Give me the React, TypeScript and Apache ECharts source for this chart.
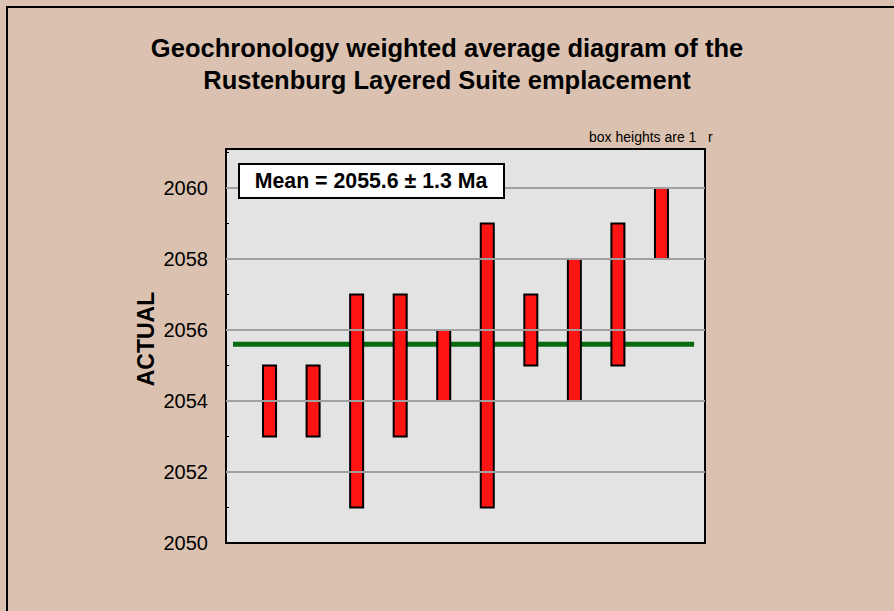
import React, { useEffect, useRef } from "react";
import * as echarts from "echarts";

const positions = [1, 2, 3, 4, 5, 6, 7, 8, 9, 10];
const lows = [2053, 2053, 2051, 2053, 2054, 2051, 2055, 2054, 2055, 2058];
const highs = [2055, 2055, 2057, 2057, 2056, 2059, 2057, 2058, 2059, 2060];
const meanValue = 2055.6;
const meanSpan = [0.16, 10.75];
const yTicks = [2050, 2052, 2054, 2056, 2058, 2060];
const gridValues = [2052, 2054, 2056, 2058, 2060];
const titleLines = ["Geochronology weighted average diagram of the", "Rustenburg Layered Suite emplacement"];
const yAxisTitle = "ACTUAL";
const meanLabel = "Mean = 2055.6 ± 1.3 Ma";
const noteLabel = "box heights are 1   r";

const FONT = "Arial, 'Liberation Sans', sans-serif";

export default function App() {
  const ref = useRef<HTMLDivElement>(null);
  useEffect(() => {
    if (!ref.current) return;
    const chart = echarts.init(ref.current, null, { renderer: "svg" });
    const boxData = positions.map((p, i) => [p, lows[i], highs[i]]);
    chart.setOption({
      animation: false,
      backgroundColor: "#dbc2b0",
      title: {
        text: titleLines.join("\n"),
        left: "center",
        top: 32,
        padding: 0,
        textStyle: {
          fontFamily: FONT,
          fontSize: 25.5,
          fontWeight: "bold",
          color: "#000",
          lineHeight: 32,
        },
      },
      grid: {
        left: 226,
        top: 149,
        right: 189,
        bottom: 68,
        show: true,
        backgroundColor: "#e3e3e3",
        borderColor: "#000",
        borderWidth: 2,
      },
      xAxis: {
        type: "value",
        min: 0,
        max: 11,
        show: true,
        axisLine: { show: true, lineStyle: { color: "#000", width: 2 } },
        axisTick: { show: false },
        axisLabel: { show: false },
        splitLine: { show: false },
      },
      yAxis: {
        type: "value",
        min: 2050,
        max: 2061.1,
        interval: 2,
        axisLine: { show: true, lineStyle: { color: "#000", width: 2 } },
        axisTick: { show: true, inside: true, length: 5, lineStyle: { color: "#000", width: 2 } },
        minorTick: { show: true, splitNumber: 2, length: 3, lineStyle: { color: "#000", width: 1 } },
        splitLine: { show: false },
        axisLabel: {
          fontFamily: FONT,
          fontSize: 20,
          color: "#000",
          margin: 18,
          formatter: (v: number) => (yTicks.indexOf(Math.round(v * 10) / 10) >= 0 ? String(v) : ""),
        },
      },
      series: [
        {
          type: "line",
          data: [
            [meanSpan[0], meanValue],
            [meanSpan[1], meanValue],
          ],
          symbol: "none",
          lineStyle: { color: "#056a10", width: 5 },
          z: 2,
          markLine: {
            silent: true,
            symbol: "none",
            label: { show: false },
            lineStyle: { color: "#a0a0a0", width: 2, type: "solid" },
            data: gridValues.map((v) => ({ yAxis: v })),
          },
        },
        {
          type: "custom",
          data: boxData,
          z: 3,
          renderItem: (params: any, api: any) => {
            const x = api.value(0);
            const top = api.coord([x, api.value(2)]);
            const bottom = api.coord([x, api.value(1)]);
            const w = 13;
            return {
              type: "rect",
              shape: { x: top[0] - w / 2, y: top[1], width: w, height: bottom[1] - top[1] },
              style: { fill: "#ff1414", stroke: "#000", lineWidth: 2 },
            };
          },
        },
      ],
      graphic: [
        {
          type: "rect",
          shape: { x: 7, y: 7, width: 1000, height: 700 },
          style: { fill: "none", stroke: "#000", lineWidth: 2 },
          silent: true,
          z: 0,
        },
        {
          type: "text",
          x: 146,
          y: 339,
          rotation: Math.PI / 2,
          style: {
            text: yAxisTitle,
            fontFamily: FONT,
            fontSize: 23,
            fontWeight: "bold",
            fill: "#000",
            align: "center",
            verticalAlign: "middle",
          },
          z: 11,
        },
        {
          type: "rect",
          shape: { x: 239, y: 164, width: 265, height: 34 },
          style: { fill: "#fff", stroke: "#000", lineWidth: 2 },
          z: 10,
        },
        {
          type: "text",
          x: 371,
          y: 181,
          style: {
            text: meanLabel,
            fontFamily: FONT,
            fontSize: 21.3,
            fontWeight: "bold",
            fill: "#000",
            align: "center",
            verticalAlign: "middle",
          },
          z: 11,
        },
        {
          type: "text",
          x: 589,
          y: 137,
          style: {
            text: noteLabel,
            fontFamily: FONT,
            fontSize: 14,
            fill: "#000",
            align: "left",
            verticalAlign: "middle",
          },
          z: 11,
        },
      ],
    });
    return () => chart.dispose();
  }, []);
  return (
    <div
      ref={ref}
      style={{ position: "fixed", left: 0, top: 0, width: 894, height: 611 }}
    />
  );
}
